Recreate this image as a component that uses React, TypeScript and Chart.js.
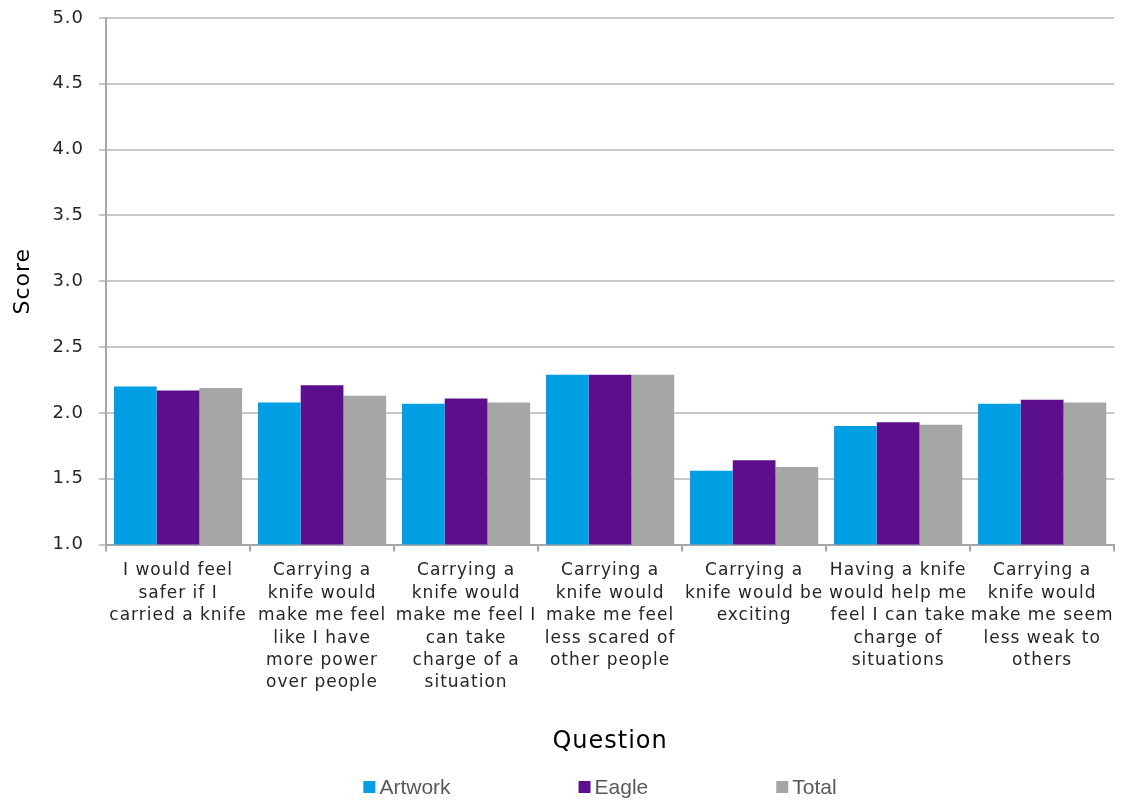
import React, { useEffect, useRef } from "react";
import { Chart, registerables } from "chart.js";

Chart.register(...registerables);

const categories: string[][] = [
  ["I would feel", "safer if I", "carried a knife"],
  ["Carrying a", "knife would", "make me feel", "like I have", "more power", "over people"],
  ["Carrying a", "knife would", "make me feel I", "can take", "charge of a", "situation"],
  ["Carrying a", "knife would", "make me feel", "less scared of", "other people"],
  ["Carrying a", "knife would be", "exciting"],
  ["Having a knife", "would help me", "feel I can take", "charge of", "situations"],
  ["Carrying a", "knife would", "make me seem", "less weak to", "others"],
];

const artwork = [2.2, 2.08, 2.07, 2.29, 1.56, 1.9, 2.07];
const eagle = [2.17, 2.21, 2.11, 2.29, 1.64, 1.93, 2.1];
const total = [2.19, 2.13, 2.08, 2.29, 1.59, 1.91, 2.08];

const seriesNames = ["Artwork", "Eagle", "Total"];
const seriesColors = ["#009FE3", "#5C0F8B", "#A6A6A6"];

const FONT = "'DejaVu Sans', Verdana, sans-serif";
const LEGEND_FONT = "'Liberation Sans', Arial, sans-serif";

const setSpacing = (chart: any) => {
  try {
    chart.ctx.letterSpacing = "1px";
  } catch (e) {}
};

const spacing = {
  id: "spacing",
  beforeUpdate: setSpacing,
  beforeLayout: setSpacing,
  beforeDraw: setSpacing,
};

const customLegend = {
  id: "customLegend",
  afterDraw(chart: any) {
    const ctx = chart.ctx as CanvasRenderingContext2D;
    const ds = chart.data.datasets;
    const box = 12;
    const gapText = 4;
    const gap = 128;
    ctx.save();
    try {
      (ctx as any).letterSpacing = "0px";
    } catch (e) {}
    ctx.font = `21px ${LEGEND_FONT}`;
    const widths = ds.map((d: any) => box + gapText + ctx.measureText(d.label).width);
    const totalW = widths.reduce((a: number, b: number) => a + b, 0) + gap * (ds.length - 1);
    let x = 600 - totalW / 2;
    const cy = 787;
    ds.forEach((d: any, i: number) => {
      ctx.fillStyle = d.backgroundColor;
      ctx.fillRect(x, cy - box / 2, box, box);
      ctx.fillStyle = "#595959";
      ctx.textBaseline = "middle";
      ctx.textAlign = "left";
      ctx.fillText(d.label, x + box + gapText, cy + 1);
      x += widths[i] + gap;
    });
    ctx.restore();
  },
};

export default function App() {
  const ref = useRef<HTMLCanvasElement>(null);

  useEffect(() => {
    if (!ref.current) return;
    const data = [artwork, eagle, total];
    const chart = new Chart(ref.current, {
      type: "bar",
      data: {
        labels: categories,
        datasets: seriesNames.map((name, i) => ({
          label: name,
          data: data[i],
          backgroundColor: seriesColors[i],
          borderWidth: 0,
          barPercentage: 1,
          categoryPercentage: 0.89,
        })),
      },
      options: {
        animation: false,
        responsive: false,
        maintainAspectRatio: false,
        layout: { padding: { top: 18, right: 6, bottom: 45, left: 0 } },
        plugins: {
          legend: { display: false },
          tooltip: { enabled: false },
        },
        scales: {
          x: {
            grid: {
              offset: true,
              drawOnChartArea: false,
              drawTicks: true,
              tickLength: 7,
              color: "#A6A6A6",
              lineWidth: 2,
            },
            border: { color: "#A6A6A6", width: 2 },
            ticks: {
              color: "#262626",
              font: { family: FONT, size: 17, lineHeight: 1.32 },
              padding: 8,
              maxRotation: 0,
              autoSkip: false,
            },
            title: {
              display: true,
              text: "Question",
              color: "#000000",
              font: { family: FONT, size: 24 },
              padding: { top: 25, bottom: 0 },
            },
          },
          y: {
            min: 1,
            max: 5,
            afterFit: (scale: any) => {
              scale.paddingTop = 11;
              scale.paddingBottom = 11;
            },
            ticks: {
              stepSize: 0.5,
              color: "#262626",
              font: { family: FONT, size: 18 },
              padding: 15,
              callback: (v: any) => Number(v).toFixed(1),
            },
            grid: {
              color: "#C8C8C8",
              lineWidth: 2,
              tickLength: 7,
            },
            border: { color: "#A6A6A6", width: 2 },
            title: {
              display: true,
              text: "Score",
              color: "#000000",
              font: { family: FONT, size: 22 },
              padding: { top: 10, bottom: 1 },
            },
          },
        },
      },
      plugins: [spacing, customLegend],
    });
    return () => chart.destroy();
  }, []);

  return (
    <div style={{ position: "fixed", left: 0, top: 0, width: 1122, height: 801, background: "#fff" }}>
      <canvas ref={ref} width={1122} height={801} style={{ width: 1122, height: 801 }} />
    </div>
  );
}
